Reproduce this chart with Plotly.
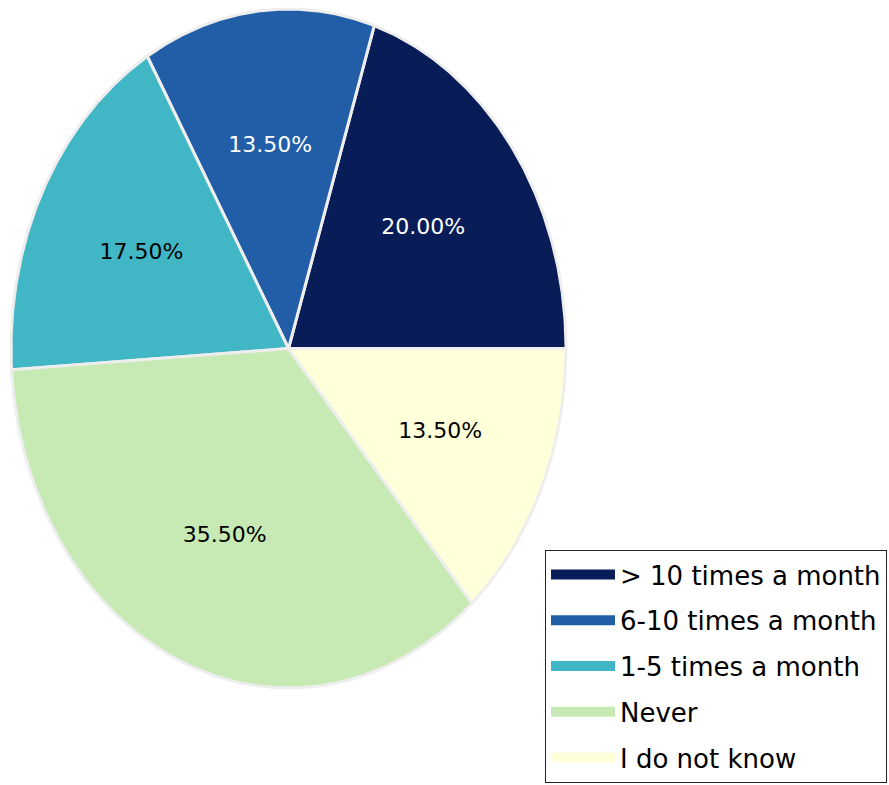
import numpy as np
import plotly.graph_objects as go

# ---- data ----
categories = ["> 10 times a month", "6-10 times a month", "1-5 times a month", "Never", "I do not know"]
values = [20.0, 13.5, 17.5, 35.5, 13.5]
colors = ["#081d58", "#225ea8", "#41b6c4", "#c7e9b4", "#ffffd9"]
label_colors = ["white", "white", "black", "black", "black"]

# ---- layout geometry (pixels) ----
W, H = 889, 785
cx, cy = 288.5, 348.5      # pie centre
rx, ry = 277.5, 339.5      # horizontal / vertical radius (pie is stretched)
pad = 1.01

fig = go.Figure()

total = sum(values)
start = 0.0
label_x, label_y, label_t = [], [], []
for cat, v, col in zip(categories, values, colors):
    frac = v / total
    t = np.linspace(start, start + frac * 2 * np.pi, 200)
    xs = np.concatenate([[0.0], np.cos(t), [0.0]])
    ys = np.concatenate([[0.0], np.sin(t), [0.0]])
    fig.add_trace(go.Scatter(
        x=xs, y=ys, mode="lines", fill="toself", fillcolor=col,
        line=dict(color="#eeeeee", width=3),
        name=cat, legendgroup=cat, showlegend=False, hoverinfo="skip",
    ))
    mid = start + frac * np.pi
    label_x.append(0.6 * np.cos(mid))
    label_y.append(0.6 * np.sin(mid))
    label_t.append(f"{frac * 100:.2f}%")
    start += frac * 2 * np.pi

# legend entries (patch-like swatches)
for cat, col in zip(categories, colors):
    fig.add_trace(go.Scatter(
        x=[None], y=[None], mode="lines",
        line=dict(color=col, width=13),
        name=cat, legendgroup=cat, showlegend=True, hoverinfo="skip",
    ))

fig.add_trace(go.Scatter(
    x=label_x, y=label_y, mode="text", text=label_t,
    textfont=dict(family="DejaVu Sans", size=22, color=label_colors),
    showlegend=False, hoverinfo="skip",
))

fig.update_layout(
    width=W, height=H,
    margin=dict(l=0, r=0, t=0, b=0, autoexpand=False),
    paper_bgcolor="white", plot_bgcolor="white",
    xaxis=dict(visible=False, range=[-pad, pad],
               domain=[(cx - rx * pad) / W, (cx + rx * pad) / W]),
    yaxis=dict(visible=False, range=[-pad, pad],
               domain=[1 - (cy + ry * pad) / H, 1 - (cy - ry * pad) / H]),
    legend=dict(
        x=545 / W, y=1 - 550 / H, xanchor="left", yanchor="top",
        bgcolor="white", bordercolor="#222222", borderwidth=1,
        font=dict(family="DejaVu Sans", size=26, color="black"),
        itemwidth=64, tracegroupgap=9, traceorder="grouped",
    ),
    showlegend=True,
)

fig.write_html("out.html")
